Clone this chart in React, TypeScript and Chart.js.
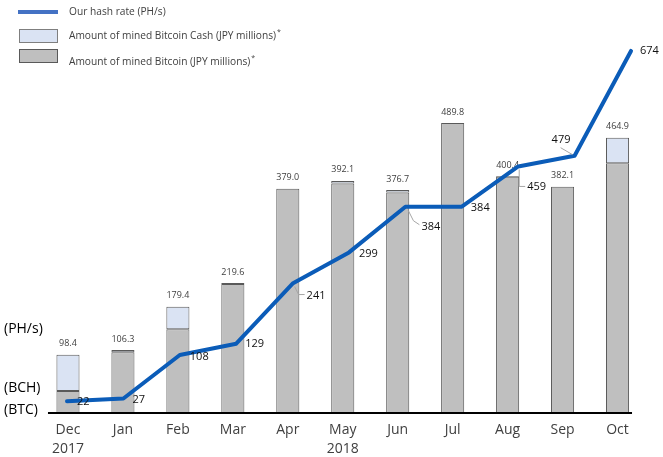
import { useEffect, useRef } from 'react';
import { Chart, registerables } from 'chart.js';

Chart.register(...registerables);

const months = ['Dec', 'Jan', 'Feb', 'Mar', 'Apr', 'May', 'Jun', 'Jul', 'Aug', 'Sep', 'Oct'];
const yearLabels = ['2017', '', '', '', '', '2018', '', '', '', '', ''];
const totalValues = [98.4, 106.3, 179.4, 219.6, 379.0, 392.1, 376.7, 489.8, 400.4, 382.1, 464.9];
const btcValues = [37.2, 102.8, 141.4, 218.1, 379.0, 387.8, 372.3, 489.8, 398.9, 382.1, 421.9];
const bchValues = [61.2, 3.5, 38.0, 1.5, 0, 4.3, 4.4, 0, 1.5, 0, 43.0];
const hashRate = [22, 27, 108, 129, 241, 299, 384, 384, 459, 479, 674];

// label placement (text left-middle offset from point) and leader lines
const hashLabelOffsets: [number, number][] = [
  [10, 1], [9, 1], [10, 2], [9, 0], [14, 12], [10, 1], [16, 20], [9, 1], [9, 20], [-23, -16], [9, 0],
];
const hashLeaders: ([number, number][] | null)[] = [
  null, null, null, null,
  [[2, 3], [6, 11], [12, 11]],
  null,
  [[3, 4], [8, 14], [14, 18]],
  null,
  [[1, 3], [1, 20], [7, 20]],
  [[-2, -1], [-14, -8]],
  null,
];

const FONT = "'Open Sans', 'Noto Sans', sans-serif";

export default function App() {
  const ref = useRef<HTMLCanvasElement | null>(null);

  useEffect(() => {
    if (!ref.current) return;

    const decorPlugin = {
      id: 'decor',
      beforeDatasetsDraw(chart: any) {
        const ctx = chart.ctx as CanvasRenderingContext2D;
        const x = chart.scales.x;
        const y = chart.scales.y;
        ctx.save();
        ctx.font = `9px ${FONT}`;
        ctx.fillStyle = '#404040';
        ctx.textAlign = 'center';
        ctx.textBaseline = 'middle';
        totalValues.forEach((v, i) => {
          ctx.fillText(v.toFixed(1), x.getPixelForValue(i), y.getPixelForValue(v) - 11);
        });
        ctx.restore();
      },
      afterDatasetsDraw(chart: any) {
        const ctx = chart.ctx as CanvasRenderingContext2D;
        const x = chart.scales.x;
        const x2 = chart.scales.x2;
        const y2 = chart.scales.y2;
        const area = chart.chartArea;
        ctx.save();
        // axis line
        ctx.strokeStyle = '#000';
        ctx.lineWidth = 2;
        ctx.beginPath();
        ctx.moveTo(x.getPixelForValue(0) - 20, area.bottom);
        ctx.lineTo(x.getPixelForValue(months.length - 1) + 14.5, area.bottom);
        ctx.stroke();

        // hash labels
        ctx.font = `11px ${FONT}`;
        ctx.fillStyle = '#111';
        ctx.textAlign = 'left';
        ctx.textBaseline = 'middle';
        hashRate.forEach((v, i) => {
          const px = x2.getPixelForValue(i);
          const py = y2.getPixelForValue(v);
          const leader = hashLeaders[i];
          if (leader) {
            ctx.strokeStyle = '#a6a6a6';
            ctx.lineWidth = 1;
            ctx.beginPath();
            leader.forEach(([dx, dy], k) => {
              if (k === 0) ctx.moveTo(px + dx, py + dy);
              else ctx.lineTo(px + dx, py + dy);
            });
            ctx.stroke();
          }
          const [ox, oy] = hashLabelOffsets[i];
          ctx.fillText(String(v), px + ox, py + oy);
        });
        ctx.restore();
      },
      afterDraw(chart: any) {
        const ctx = chart.ctx as CanvasRenderingContext2D;
        ctx.save();
        // legend
        ctx.strokeStyle = '#4472c4';
        ctx.lineWidth = 4;
        ctx.beginPath();
        ctx.moveTo(18, 12);
        ctx.lineTo(58, 12);
        ctx.stroke();

        ctx.lineWidth = 1;
        ctx.fillStyle = '#dae3f3';
        ctx.fillRect(19, 29, 39, 14);
        ctx.strokeStyle = '#7f7f7f';
        ctx.strokeRect(19.5, 29.5, 38, 13);

        ctx.fillStyle = '#bfbfbf';
        ctx.fillRect(19, 49, 39, 14);
        ctx.strokeStyle = '#595959';
        ctx.strokeRect(19.5, 49.5, 38, 13);

        ctx.fillStyle = '#404040';
        ctx.textAlign = 'left';
        ctx.textBaseline = 'middle';
        ctx.font = `10.2px ${FONT}`;
        ctx.fillText('Our hash rate (PH/s)', 69, 12);
        const t1 = 'Amount of mined Bitcoin Cash (JPY millions)';
        ctx.fillText(t1, 69, 36);
        const w1 = ctx.measureText(t1).width;
        const t2 = 'Amount of mined Bitcoin (JPY millions)';
        ctx.fillText(t2, 69, 62);
        const w2 = ctx.measureText(t2).width;
        ctx.font = `7px ${FONT}`;
        ctx.fillText('*', 69 + w1 + 1, 32);
        ctx.fillText('*', 69 + w2 + 1, 58);

        // unit labels on the left
        ctx.fillStyle = '#000';
        ctx.font = `14px ${FONT}`;
        ctx.fillText('(PH/s)', 4, 329);
        ctx.fillText('(BCH)', 4, 388);
        ctx.fillText('(BTC)', 4, 410);
        ctx.restore();
      },
    };

    const barCommon = {
      borderColor: '#595959',
      borderWidth: 1,
      borderSkipped: false,
      xAxisID: 'x',
      yAxisID: 'y',
      grouped: false,
      barPercentage: 0.42,
      categoryPercentage: 1,
      order: 1,
    };

    const chart = new Chart(ref.current, {
      type: 'bar',
      data: {
        labels: months.map((m, i) => (yearLabels[i] ? [m, yearLabels[i]] : m)) as any,
        datasets: [
          {
            type: 'line',
            label: 'Our hash rate (PH/s)',
            data: hashRate.map((v, i) => ({ x: i, y: v })) as any,
            xAxisID: 'x2',
            yAxisID: 'y2',
            borderColor: '#0b5cb8',
            borderWidth: 4,
            pointRadius: 0,
            borderCapStyle: 'round',
            borderJoinStyle: 'round',
            tension: 0,
            order: 0,
          } as any,
          {
            ...barCommon,
            label: 'Amount of mined Bitcoin (JPY millions)',
            data: btcValues,
            backgroundColor: '#bfbfbf',
          } as any,
          {
            ...barCommon,
            label: 'Amount of mined Bitcoin Cash (JPY millions)',
            data: bchValues.map((v) => (v === 0 ? null : v)),
            backgroundColor: '#dae3f3',
          } as any,
        ],
      },
      options: {
        responsive: false,
        animation: false,
        devicePixelRatio: 1,
        layout: { padding: { left: 40.5, right: 18, top: 30, bottom: 0 } },
        plugins: {
          legend: { display: false },
          tooltip: { enabled: false },
        },
        scales: {
          x: {
            type: 'category',
            stacked: true,
            grid: { display: false, drawTicks: false },
            border: { display: false },
            ticks: {
              color: '#404040',
              font: { family: FONT, size: 14, lineHeight: 1.35 },
              padding: 8,
              maxRotation: 0,
              autoSkip: false,
            },
            afterFit: (s: any) => {
              s.height = 44;
            },
          },
          x2: {
            type: 'linear',
            display: false,
            offset: false,
            bounds: 'data',
            min: -0.47,
            max: 10.248,
          },
          y: {
            stacked: true,
            display: false,
            min: 0,
            max: 647,
          },
          y2: {
            display: false,
            min: 0,
            max: 713,
          },
        },
      },
      plugins: [decorPlugin],
    });

    return () => chart.destroy();
  }, []);

  return (
    <div style={{ position: 'fixed', left: 0, top: 0, width: 663, height: 457, background: '#fff' }}>
      <canvas ref={ref} width={663} height={457} style={{ width: 663, height: 457 }} />
    </div>
  );
}
